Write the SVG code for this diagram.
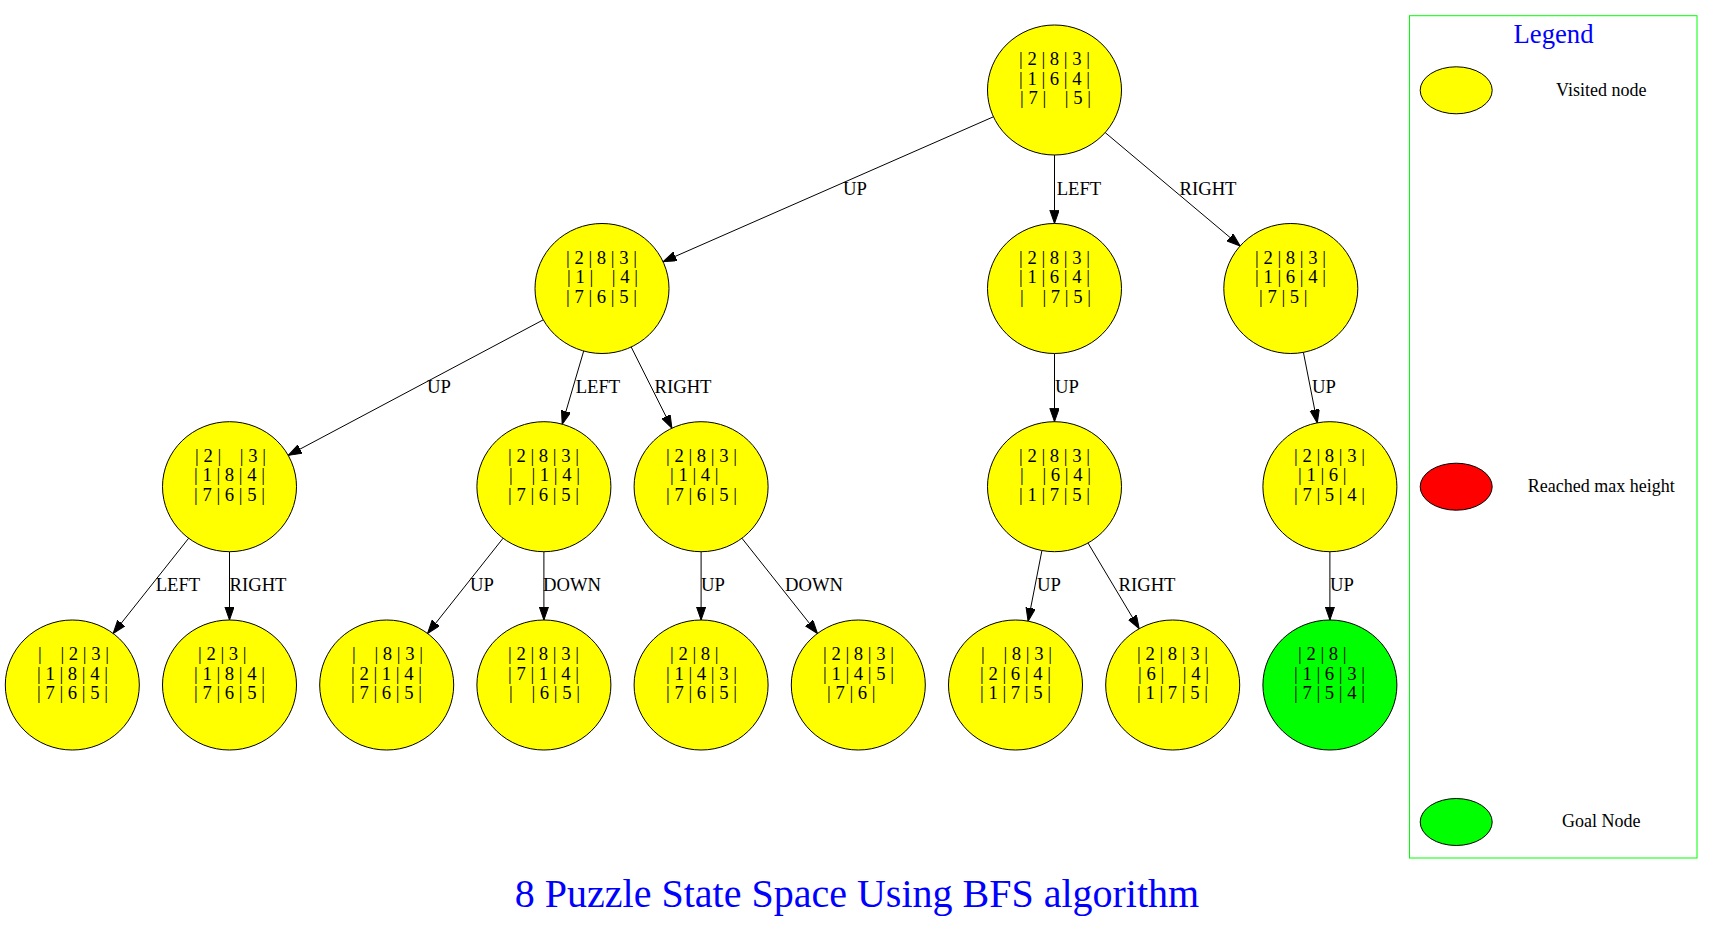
<svg xmlns="http://www.w3.org/2000/svg" width="1714" height="929" viewBox="0 0 1714 929">
<style>
.bg{fill:#ffffff}
.n{stroke:#000;stroke-width:1}
.y{fill:#ffff00}
.g{fill:#00ff00}
.r{fill:#ff0000}
.t{font-family:"Liberation Serif","Times New Roman",serif;font-size:18.67px;fill:#000;white-space:pre}
.el{font-family:"Liberation Serif","Times New Roman",serif;font-size:18.67px;fill:#000;text-anchor:middle}
.e line{stroke:#000;stroke-width:1;fill:none;marker-end:url(#ah)}
.lg{font-family:"Liberation Serif","Times New Roman",serif;font-size:18px;fill:#000;text-anchor:middle}
</style>
<defs>
<marker id="ah" markerWidth="15" markerHeight="11" refX="13.3" refY="4.67" orient="auto" markerUnits="userSpaceOnUse">
<path d="M0,0 L13.3,4.67 L0,9.33 z" fill="#000" stroke="#000" stroke-width="1"/>
</marker>
</defs>
<rect class="bg" x="0" y="0" width="1714" height="929"/>

<g id="edges" class="e">
<line x1="993.4" y1="116.8" x2="663.1" y2="261.7"/>
<line x1="1054.5" y1="155" x2="1054.5" y2="223.5"/>
<line x1="1105.1" y1="132.5" x2="1240.2" y2="246"/>
<line x1="543.3" y1="319.8" x2="288.2" y2="455.4"/>
<line x1="583.7" y1="351" x2="562.2" y2="424.2"/>
<line x1="631.2" y1="347" x2="671.9" y2="428.2"/>
<line x1="1054.5" y1="353.5" x2="1054.5" y2="421.7"/>
<line x1="1303.4" y1="352.3" x2="1317.3" y2="422.9"/>
<line x1="188.7" y1="538.2" x2="113.1" y2="633.5"/>
<line x1="229.5" y1="551.7" x2="229.5" y2="620"/>
<line x1="503.1" y1="538.2" x2="427.5" y2="633.5"/>
<line x1="543.9" y1="551.7" x2="543.9" y2="620"/>
<line x1="701.1" y1="551.7" x2="701.1" y2="620"/>
<line x1="741.9" y1="538.2" x2="817.5" y2="633.5"/>
<line x1="1041.9" y1="550.6" x2="1028.1" y2="621.2"/>
<line x1="1088" y1="543" x2="1139.2" y2="628.7"/>
<line x1="1329.9" y1="551.7" x2="1329.9" y2="620"/>
<text class="el" x="855" y="195">UP</text>
<text class="el" x="1079" y="195">LEFT</text>
<text class="el" x="1208" y="195">RIGHT</text>
<text class="el" x="439" y="393">UP</text>
<text class="el" x="598" y="393">LEFT</text>
<text class="el" x="683" y="393">RIGHT</text>
<text class="el" x="1067" y="393">UP</text>
<text class="el" x="1324" y="393">UP</text>
<text class="el" x="178" y="591">LEFT</text>
<text class="el" x="258" y="591">RIGHT</text>
<text class="el" x="482" y="591">UP</text>
<text class="el" x="572" y="591">DOWN</text>
<text class="el" x="713" y="591">UP</text>
<text class="el" x="814" y="591">DOWN</text>
<text class="el" x="1049" y="591">UP</text>
<text class="el" x="1147" y="591">RIGHT</text>
<text class="el" x="1342" y="591">UP</text>
</g>

<g id="node-A"><ellipse class="n y" cx="1054.5" cy="90" rx="67" ry="65"/>
<text class="t" xml:space="preserve" x="1019" y="65.3">| 2 | 8 | 3 |</text>
<text class="t" xml:space="preserve" x="1019" y="84.6">| 1 | 6 | 4 |</text>
<text class="t" xml:space="preserve" x="1020" y="104">| 7 |    | 5 |</text></g>

<g id="node-B"><ellipse class="n y" cx="602" cy="288.5" rx="67" ry="65"/>
<text class="t" xml:space="preserve" x="566" y="263.8">| 2 | 8 | 3 |</text>
<text class="t" xml:space="preserve" x="567" y="283.1">| 1 |    | 4 |</text>
<text class="t" xml:space="preserve" x="566" y="302.5">| 7 | 6 | 5 |</text></g>

<g id="node-C"><ellipse class="n y" cx="1054.5" cy="288.5" rx="67" ry="65"/>
<text class="t" xml:space="preserve" x="1019" y="263.8">| 2 | 8 | 3 |</text>
<text class="t" xml:space="preserve" x="1019" y="283.1">| 1 | 6 | 4 |</text>
<text class="t" xml:space="preserve" x="1020" y="302.5">|    | 7 | 5 |</text></g>

<g id="node-D"><ellipse class="n y" cx="1290.8" cy="288.5" rx="67" ry="65"/>
<text class="t" xml:space="preserve" x="1255" y="263.8">| 2 | 8 | 3 |</text>
<text class="t" xml:space="preserve" x="1255" y="283.1">| 1 | 6 | 4 |</text>
<text class="t" xml:space="preserve" x="1259" y="302.5">| 7 | 5 |</text></g>

<g id="node-E"><ellipse class="n y" cx="229.5" cy="486.7" rx="67" ry="65"/>
<text class="t" xml:space="preserve" x="195" y="462">| 2 |    | 3 |</text>
<text class="t" xml:space="preserve" x="194" y="481.3">| 1 | 8 | 4 |</text>
<text class="t" xml:space="preserve" x="194" y="500.7">| 7 | 6 | 5 |</text></g>

<g id="node-F"><ellipse class="n y" cx="543.9" cy="486.7" rx="67" ry="65"/>
<text class="t" xml:space="preserve" x="508" y="462">| 2 | 8 | 3 |</text>
<text class="t" xml:space="preserve" x="509" y="481.3">|    | 1 | 4 |</text>
<text class="t" xml:space="preserve" x="508" y="500.7">| 7 | 6 | 5 |</text></g>

<g id="node-G"><ellipse class="n y" cx="701.1" cy="486.7" rx="67" ry="65"/>
<text class="t" xml:space="preserve" x="666" y="462">| 2 | 8 | 3 |</text>
<text class="t" xml:space="preserve" x="670" y="481.3">| 1 | 4 |</text>
<text class="t" xml:space="preserve" x="666" y="500.7">| 7 | 6 | 5 |</text></g>

<g id="node-H"><ellipse class="n y" cx="1054.5" cy="486.7" rx="67" ry="65"/>
<text class="t" xml:space="preserve" x="1019" y="462">| 2 | 8 | 3 |</text>
<text class="t" xml:space="preserve" x="1020" y="481.3">|    | 6 | 4 |</text>
<text class="t" xml:space="preserve" x="1019" y="500.7">| 1 | 7 | 5 |</text></g>

<g id="node-I"><ellipse class="n y" cx="1329.9" cy="486.7" rx="67" ry="65"/>
<text class="t" xml:space="preserve" x="1294" y="462">| 2 | 8 | 3 |</text>
<text class="t" xml:space="preserve" x="1298" y="481.3">| 1 | 6 |</text>
<text class="t" xml:space="preserve" x="1294" y="500.7">| 7 | 5 | 4 |</text></g>

<g id="node-J"><ellipse class="n y" cx="72.3" cy="685" rx="67" ry="65"/>
<text class="t" xml:space="preserve" x="38" y="660.3">|    | 2 | 3 |</text>
<text class="t" xml:space="preserve" x="37" y="679.6">| 1 | 8 | 4 |</text>
<text class="t" xml:space="preserve" x="37" y="699">| 7 | 6 | 5 |</text></g>

<g id="node-K"><ellipse class="n y" cx="229.5" cy="685" rx="67" ry="65"/>
<text class="t" xml:space="preserve" x="198" y="660.3">| 2 | 3 |</text>
<text class="t" xml:space="preserve" x="194" y="679.6">| 1 | 8 | 4 |</text>
<text class="t" xml:space="preserve" x="194" y="699">| 7 | 6 | 5 |</text></g>

<g id="node-L"><ellipse class="n y" cx="386.7" cy="685" rx="67" ry="65"/>
<text class="t" xml:space="preserve" x="352" y="660.3">|    | 8 | 3 |</text>
<text class="t" xml:space="preserve" x="351" y="679.6">| 2 | 1 | 4 |</text>
<text class="t" xml:space="preserve" x="351" y="699">| 7 | 6 | 5 |</text></g>

<g id="node-M"><ellipse class="n y" cx="543.9" cy="685" rx="67" ry="65"/>
<text class="t" xml:space="preserve" x="508" y="660.3">| 2 | 8 | 3 |</text>
<text class="t" xml:space="preserve" x="508" y="679.6">| 7 | 1 | 4 |</text>
<text class="t" xml:space="preserve" x="509" y="699">|    | 6 | 5 |</text></g>

<g id="node-N"><ellipse class="n y" cx="701.1" cy="685" rx="67" ry="65"/>
<text class="t" xml:space="preserve" x="670" y="660.3">| 2 | 8 |</text>
<text class="t" xml:space="preserve" x="666" y="679.6">| 1 | 4 | 3 |</text>
<text class="t" xml:space="preserve" x="666" y="699">| 7 | 6 | 5 |</text></g>

<g id="node-O"><ellipse class="n y" cx="858.3" cy="685" rx="67" ry="65"/>
<text class="t" xml:space="preserve" x="823" y="660.3">| 2 | 8 | 3 |</text>
<text class="t" xml:space="preserve" x="823" y="679.6">| 1 | 4 | 5 |</text>
<text class="t" xml:space="preserve" x="827" y="699">| 7 | 6 |</text></g>

<g id="node-P"><ellipse class="n y" cx="1015.5" cy="685" rx="67" ry="65"/>
<text class="t" xml:space="preserve" x="981" y="660.3">|    | 8 | 3 |</text>
<text class="t" xml:space="preserve" x="980" y="679.6">| 2 | 6 | 4 |</text>
<text class="t" xml:space="preserve" x="980" y="699">| 1 | 7 | 5 |</text></g>

<g id="node-Q"><ellipse class="n y" cx="1172.7" cy="685" rx="67" ry="65"/>
<text class="t" xml:space="preserve" x="1137" y="660.3">| 2 | 8 | 3 |</text>
<text class="t" xml:space="preserve" x="1138" y="679.6">| 6 |    | 4 |</text>
<text class="t" xml:space="preserve" x="1137" y="699">| 1 | 7 | 5 |</text></g>

<g id="node-R"><ellipse class="n g" cx="1329.9" cy="685" rx="67" ry="65"/>
<text class="t" xml:space="preserve" x="1298" y="660.3">| 2 | 8 |</text>
<text class="t" xml:space="preserve" x="1294" y="679.6">| 1 | 6 | 3 |</text>
<text class="t" xml:space="preserve" x="1294" y="699">| 7 | 5 | 4 |</text></g>

<g id="legend">
<rect x="1409.5" y="15.7" width="287.5" height="842.3" fill="none" stroke="#00ff00" stroke-width="1"/>
<text x="1553.5" y="43.3" font-family="Liberation Serif, Times New Roman, serif" font-size="26.67" fill="#0000ff" text-anchor="middle">Legend</text>
<g id="legend-visited"><ellipse class="n y" cx="1456.2" cy="90.3" rx="36" ry="23.5"/>
<text class="lg" x="1601.3" y="95.5">Visited node</text></g>
<g id="legend-max"><ellipse class="n r" cx="1456.2" cy="486.7" rx="36" ry="23.5"/>
<text class="lg" x="1601.3" y="492">Reached max height</text></g>
<g id="legend-goal"><ellipse class="n g" cx="1456.2" cy="822" rx="36" ry="23.5"/>
<text class="lg" x="1601.3" y="827.3">Goal Node</text></g>
</g>

<text id="title" x="857" y="907" font-family="Liberation Serif, Times New Roman, serif" font-size="40" fill="#0000ff" text-anchor="middle">8 Puzzle State Space Using BFS algorithm</text>
</svg>
